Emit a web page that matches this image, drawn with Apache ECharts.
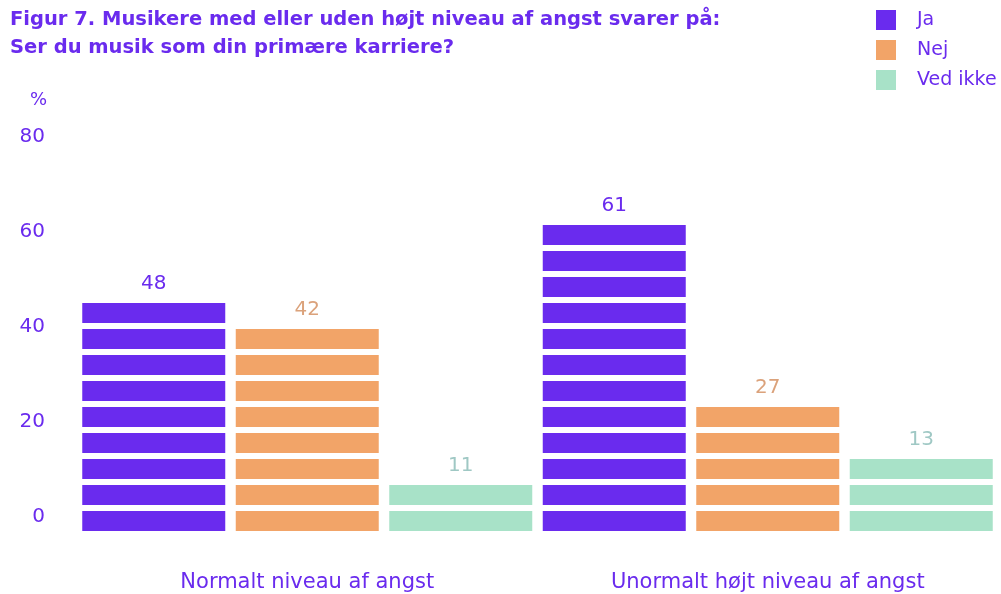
<!DOCTYPE html>
<html lang="da">
<head>
<meta charset="UTF-8">
<title>Figur 7</title>
<style>
    html, body { margin: 0; padding: 0; background: #fff; }
    .chart { width: 1001px; height: 594px; }
</style>
<script src="https://cdn.jsdelivr.net/npm/echarts@6/dist/echarts.min.js"></script>
</head>
<body>
<div class="chart"></div>
<script>
    // data
    const categories = ['Normalt niveau af angst', 'Unormalt højt niveau af angst'];
    const seriesNames = ['Ja', 'Nej', 'Ved ikke'];
    const ja = [48, 61];
    const nej = [42, 27];
    const vedIkke = [11, 13];
    const yTicks = [0, 20, 40, 60, 80];

    const purple = '#6a2bee';
    const colors = ['#6a2bee', '#f2a468', '#a8e2c8'];
    const labelColors = ['#6a2bee', '#dba27b', '#9fc8c4'];
    const font = '"DejaVu Sans", sans-serif';

    // bar geometry (pixels)
    const BAR_W = 143, BAR_STEP = 153.5, SEG_H = 20, SEG_STEP = 26;

    let chart = echarts.init(document.querySelector('.chart'));

    function makeSeries(name, values, idx) {
        return {
            name: name,
            type: 'custom',
            data: values.map((v, i) => [i, v]),
            itemStyle: { color: colors[idx] },
            renderItem: function (params, api) {
                let base = api.coord([api.value(0), 0]);
                let top = api.coord([api.value(0), api.value(1)]);
                let len = base[1] - top[1];
                let n = Math.ceil((len - 2) / SEG_STEP);   // whole segments only
                let x = base[0] + (idx - 1) * BAR_STEP - BAR_W / 2;
                let children = [];
                for (let k = 0; k < n; k++) {
                    children.push({
                        type: 'rect',
                        shape: { x: x, y: base[1] - SEG_H - k * SEG_STEP, width: BAR_W, height: SEG_H },
                        style: { fill: colors[idx] }
                    });
                }
                let barTop = base[1] - (n - 1) * SEG_STEP - SEG_H;
                children.push({
                    type: 'text',
                    style: {
                        text: String(api.value(1)),
                        x: x + BAR_W / 2,
                        y: barTop - 19,
                        align: 'center',
                        verticalAlign: 'middle',
                        fill: labelColors[idx],
                        fontSize: 20,
                        fontFamily: font
                    }
                });
                return { type: 'group', children: children };
            }
        };
    }

    let option = {
        color: colors,
        animation: false,
        title: {
            text: 'Figur 7. Musikere med eller uden højt niveau af angst svarer på:\nSer du musik som din primære karriere?',
            left: 10,
            top: 6,
            padding: 0,
            textStyle: { color: purple, fontSize: 19.5, fontWeight: 'bold', lineHeight: 28, fontFamily: font }
        },
        legend: {
            data: seriesNames,
            orient: 'vertical',
            left: 876,
            top: 10,
            padding: 0,
            icon: 'rect',
            itemWidth: 20,
            itemHeight: 20,
            itemGap: 10,
            textStyle: { color: purple, fontSize: 19, fontFamily: font, padding: [0, 0, 0, 16] }
        },
        grid: { left: 77, right: 3, top: 151, bottom: 63 },
        xAxis: {
            type: 'category',
            data: categories,
            axisLine: { show: false },
            axisTick: { show: false },
            axisLabel: { color: purple, fontSize: 21, margin: 41, fontFamily: font }
        },
        yAxis: {
            type: 'value',
            min: yTicks[0],
            max: yTicks[yTicks.length - 1],
            interval: yTicks[1] - yTicks[0],
            name: '%',
            nameLocation: 'end',
            nameGap: 42,
            nameTextStyle: { color: purple, fontSize: 18, fontFamily: font, align: 'right', padding: [0, 30, 0, 0] },
            splitLine: { show: false },
            axisLine: { show: false },
            axisTick: { show: false },
            axisLabel: { color: purple, fontSize: 20, margin: 32, fontFamily: font, verticalAlign: 'bottom', lineHeight: 28 }
        },
        series: [
            makeSeries(seriesNames[0], ja, 0),
            makeSeries(seriesNames[1], nej, 1),
            makeSeries(seriesNames[2], vedIkke, 2)
        ]
    };

    chart.setOption(option);
</script>
</body>
</html>
